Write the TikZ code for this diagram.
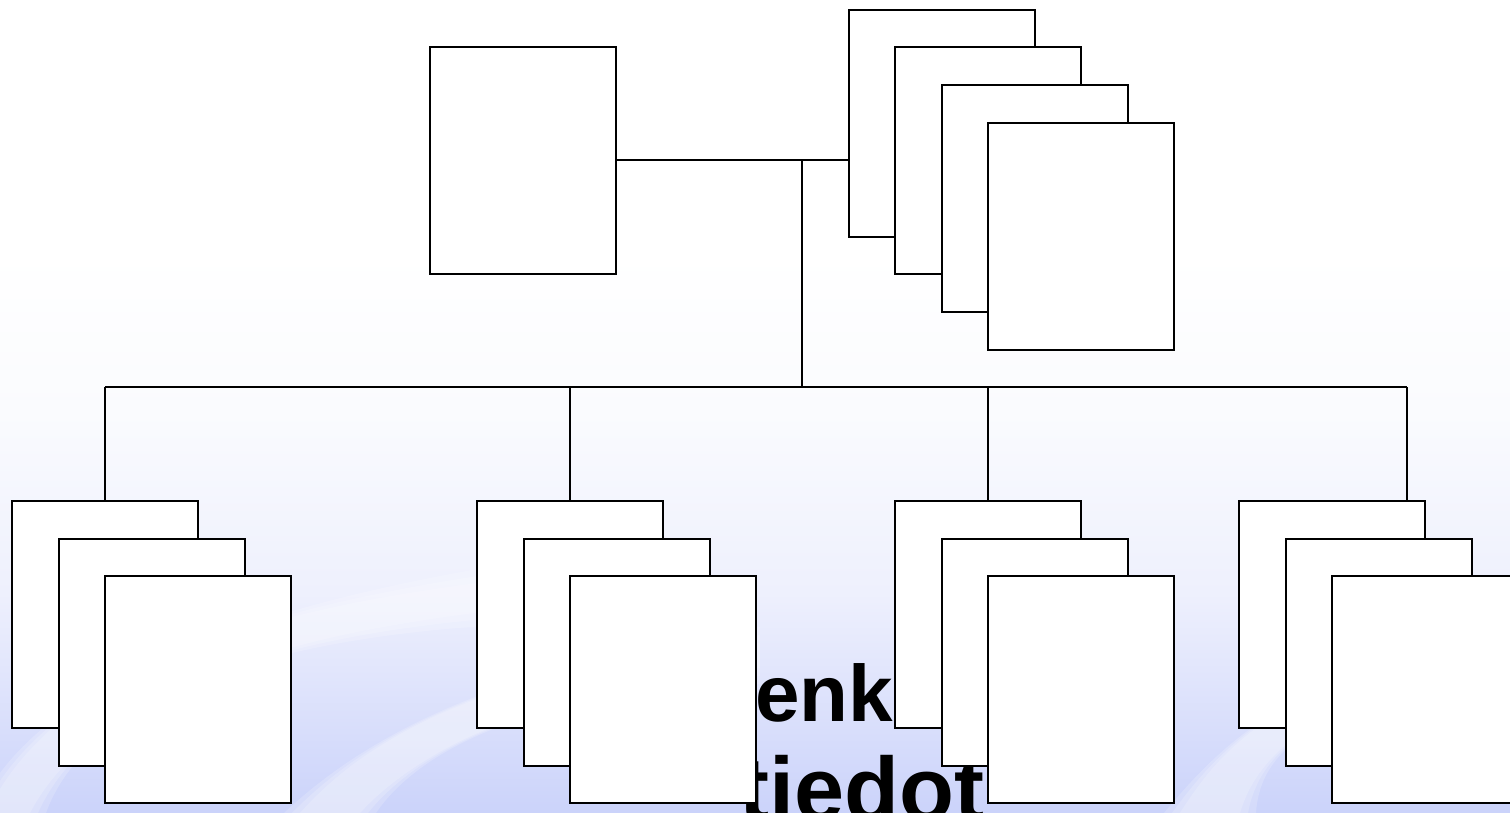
\documentclass[tikz,border=0pt]{standalone}
\usepackage{fontspec}
\setmainfont{Liberation Sans}
\definecolor{bgtop}{RGB}{250,251,254}
\definecolor{bgmid}{RGB}{238,240,253}
\definecolor{bgblue}{RGB}{203,211,250}
\begin{document}
\begin{tikzpicture}[x=0.5pt,y=0.5pt,
  card/.style={draw=black,fill=white,line width=1pt,inner sep=0pt,
    minimum width=93pt,minimum height=113.5pt},
  link/.style={draw=black,line width=1pt},
  streak/.style={fill=white,opacity=0.18},
  bigtext/.style={anchor=base west,inner sep=0pt,text=black,font=\bfseries}]
\useasboundingbox (0,0) rectangle (1510,813);
% background
\fill[white] (0,0) rectangle (1510,813);
\shade[top color=white,bottom color=bgtop] (0,400) rectangle (1510,563);
\shade[top color=bgtop,bottom color=bgmid] (0,220) rectangle (1510,400);
\shade[top color=bgmid,bottom color=bgblue] (0,0) rectangle (1510,220);
% soft light streaks
\foreach \w in {0,8,16}{
\fill[streak] (0,40-\w) .. controls (60,120) and (200,200) .. (520,235+\w)
  -- (520,205-\w) .. controls (220,175) and (80,95) .. (30+\w,0) -- (0,0) -- cycle;
\fill[streak] (300-\w,0) .. controls (380,90) and (520,150) .. (760,170+\w)
  -- (760,145-\w) .. controls (540,125) and (420,65) .. (360+\w,0) -- cycle;
\fill[streak] (1180-\w,0) .. controls (1230,80) and (1300,140) .. (1510,170+\w)
  -- (1510,145-\w) .. controls (1320,115) and (1260,65) .. (1240+\w,0) -- cycle;
}
% text behind cards
\node[bigtext] (t1) at (755,91) {\fontsize{40pt}{40pt}\selectfont enk};
\node[bigtext] (t2) at (739,-8) {\fontsize{45pt}{45pt}\selectfont tiedot};
% top cards
\node[card] (top) at (523,652.5) {};
\node[card] (r1) at (941.5,689.5) {};
\node[card] (r2) at (988,652.5) {};
\node[card] (r3) at (1034.5,614.5) {};
\node[card] (r4) at (1081,576.5) {};
% bottom groups
\node[card] (g1a) at (105,198.5) {};
\node[card] (g1b) at (151.5,160.5) {};
\node[card] (g1c) at (198,123) {};
\node[card] (g2a) at (570,198.5) {};
\node[card] (g2b) at (616.5,160.5) {};
\node[card] (g2c) at (663,123) {};
\node[card] (g3a) at (988,198.5) {};
\node[card] (g3b) at (1034.5,160.5) {};
\node[card] (g3c) at (1081,123) {};
\node[card] (g4a) at (1332,198.5) {};
\node[card] (g4b) at (1378.5,160.5) {};
\node[card] (g4c) at (1425,123) {};
% connectors
\coordinate (j) at (802,652.5);
\coordinate (bus) at (802,426);
\coordinate (d1) at (105,426);
\coordinate (d2) at (570,426);
\coordinate (d3) at (988,426);
\coordinate (d4) at (1407,426);
\draw[link] (top.east) -- (top.east -| r1.west);
\draw[link] (j) -- (bus);
\draw[link] (d1) -- (d4);
\draw[link] (d1) -- (g1a.north);
\draw[link] (d2) -- (g2a.north);
\draw[link] (d3) -- (g3a.north);
\draw[link] (d4) -- (d4 |- g4a.north);
\end{tikzpicture}
\end{document}
